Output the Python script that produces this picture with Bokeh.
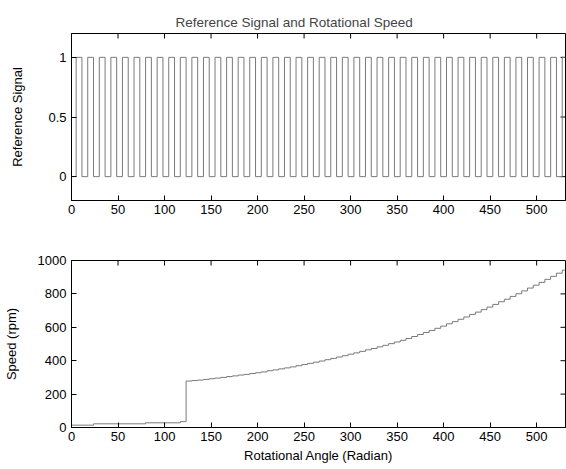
import math
from bokeh.plotting import figure
from bokeh.layouts import column
from bokeh.models import Range1d, FixedTicker
from bokeh.embed import file_html
from bokeh.resources import INLINE

# ---------------- data ----------------
x_end = 531.0
x_ticks = [0, 50, 100, 150, 200, 250, 300, 350, 400, 450, 500]

# reference signal: angles of the rising edges, pulse width, levels
ref_rise_angles = [5.0, 17.44, 29.88, 42.32, 54.76, 67.2, 79.64, 92.08, 104.52,
                   116.96, 129.4, 141.84, 154.28, 166.72, 179.16, 191.6, 204.04,
                   216.48, 228.92, 241.36, 253.8, 266.24, 278.68, 291.12, 303.56,
                   316.0, 328.44, 340.88, 353.32, 365.76, 378.2, 390.64, 403.08,
                   415.52, 427.96, 440.4, 452.84, 465.28, 477.72, 490.16, 502.6,
                   515.04, 527.48]
ref_pulse_width = 6.22
ref_low, ref_high = 0, 1
ref_y_ticks = [0, 0.5, 1]

# rotational speed: step start angles and speed held on each step (rpm)
speed_step_angles = [0.0, 23.7, 79.6, 117.0,
                     123.18, 129.4, 135.62, 141.84, 148.06, 154.28, 160.5, 166.72,
                     172.94, 179.16, 185.38, 191.6, 197.82, 204.04, 210.26, 216.48,
                     222.7, 228.92, 235.14, 241.36, 247.58, 253.8, 260.02, 266.24,
                     272.46, 278.68, 284.9, 291.12, 297.34, 303.56, 309.78, 316.0,
                     322.22, 328.44, 334.66, 340.88, 347.1, 353.32, 359.54, 365.76,
                     371.98, 378.2, 384.42, 390.64, 396.86, 403.08, 409.3, 415.52,
                     421.74, 427.96, 434.18, 440.4, 446.62, 452.84, 459.06, 465.28,
                     471.5, 477.72, 483.94, 490.16, 496.38, 502.6, 508.82, 515.04,
                     521.26, 527.48]
speed_rpm = [14, 22, 28, 35,
             278, 281, 284, 288, 292, 296, 300, 305,
             309, 314, 318, 323, 328, 333, 340, 345,
             351, 357, 363, 370, 377, 384, 391, 398,
             406, 414, 422, 430, 439, 447, 456, 465,
             473, 483, 492, 502, 512, 522, 533, 545,
             557, 569, 581, 594, 607, 621, 634, 648,
             662, 677, 691, 706, 721, 737, 753, 768,
             785, 801, 818, 835, 852, 869, 887, 905,
             924, 942]
speed_y_ticks = [0, 200, 400, 600, 800, 1000]

# ---------------- styling ----------------
FONT = "Liberation Sans"
LINE_COLOR = "#7a7a7a"
TICK_LEN = 5


def style_axis(ax, ticks):
    ax.ticker = FixedTicker(ticks=ticks)
    ax.major_tick_in = TICK_LEN
    ax.major_tick_out = 0
    ax.minor_tick_in = 0
    ax.minor_tick_out = 0
    ax.major_tick_line_color = "black"
    ax.axis_line_color = "black"
    ax.major_label_text_font = FONT
    ax.major_label_text_color = "black"
    ax.major_label_text_font_size = "13px"
    ax.major_label_standoff = 4
    ax.axis_label_text_font = FONT
    ax.axis_label_text_font_style = "normal"
    ax.axis_label_text_font_size = "13px"
    ax.axis_label_text_color = "black"


def make_fig(height, y0, y1, y_ticks, border_top, border_bottom):
    p = figure(width=566, height=height, output_backend="svg", toolbar_location=None,
               x_range=Range1d(0, x_end), y_range=Range1d(y0, y1),
               min_border_left=71, min_border_right=1,
               min_border_top=border_top, min_border_bottom=border_bottom)
    p.grid.visible = False
    p.outline_line_color = "black"
    p.outline_line_alpha = 1.0
    p.background_fill_color = "white"
    p.border_fill_color = "white"
    xax = p.xaxis[0]
    yax = p.yaxis[0]
    style_axis(xax, x_ticks)
    style_axis(yax, y_ticks)
    yax.major_label_standoff = 5
    # inward tick marks on the top and right edges of the box
    p.ray(x=x_ticks, y=[y1] * len(x_ticks), length=TICK_LEN, length_units="screen",
          angle=-math.pi / 2, line_color="black", line_width=1)
    p.ray(x=[x_end] * len(y_ticks), y=y_ticks, length=TICK_LEN, length_units="screen",
          angle=math.pi, line_color="black", line_width=1)
    return p, xax, yax


# ---------------- top: reference signal ----------------
p1, p1x, p1y = make_fig(230, -0.2, 1.2, ref_y_ticks, 33, 30)
p1.title.text = "Reference Signal and Rotational Speed"
p1.title.text_font = FONT
p1.title.text_font_style = "normal"
p1.title.text_font_size = "13.5px"
p1.title.align = "left"
p1.title.offset = 104
p1.title.standoff = 7
p1y.axis_label = "Reference Signal"
p1y.axis_label_standoff = 20

ref_x = [0.0]
ref_y = [ref_low]
for r in ref_rise_angles:
    f = min(r + ref_pulse_width, x_end)
    ref_x += [r, r, f]
    ref_y += [ref_low, ref_high, ref_high]
    if r + ref_pulse_width <= x_end:
        ref_x.append(f)
        ref_y.append(ref_low)
p1.line(ref_x, ref_y, line_color=LINE_COLOR, line_width=1)

# ---------------- bottom: rotational speed ----------------
p2, p2x, p2y = make_fig(239, 0, 1000, speed_y_ticks, 30, 42)
p2y.axis_label = "Speed (rpm)"
p2y.axis_label_standoff = 16
p2x.axis_label = "Rotational Angle (Radian)"
p2x.axis_label_standoff = 4

sx = speed_step_angles + [x_end]
sy = speed_rpm + [speed_rpm[-1]]
p2.step(sx, sy, mode="after", line_color=LINE_COLOR, line_width=1)

layout = column(p1, p2, spacing=0)
open("out.html", "w").write(file_html(layout, INLINE))
